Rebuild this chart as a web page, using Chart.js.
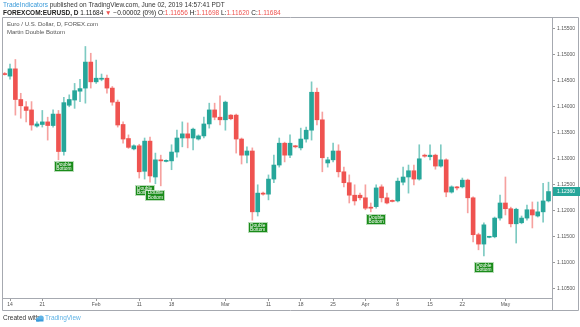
<!DOCTYPE html>
<html>
<head>
<meta charset="utf-8">
<script src="https://cdn.jsdelivr.net/npm/chart.js@4.4.1/dist/chart.umd.min.js"></script>
<style>
  html, body { margin: 0; padding: 0; background: #fff; }
</style>
</head>
<body>
<canvas id="chart" width="580" height="327"></canvas>
<script>
// daily EURUSD candles, Sun Jan 13 .. Fri May 10 2019 (Sunday bars included)
const opens = [1.1462,1.1458,1.1472,1.1413,1.1399,1.1393,1.1362,1.1365,1.1370,1.1363,
  1.1385,1.1313,1.1402,1.1412,1.1429,1.1435,1.1485,1.1447,1.1452,1.1454,
  1.1435,1.1408,1.1365,1.1338,1.1318,1.1324,1.1275,1.1333,1.1264,1.1297,
  1.1294,1.1295,1.1312,1.1339,1.1347,1.1339,1.1337,1.1343,1.1366,1.1393,
  1.1379,1.1374,1.1383,1.1383,1.1337,1.1306,1.1314,1.1197,1.1233,1.1231,
  1.1260,1.1287,1.1329,1.1306,1.1324,1.1320,1.1337,1.1354,1.1427,1.1374,
  1.1291,1.1297,1.1314,1.1274,1.1253,1.1229,1.1229,1.1224,1.1206,1.1207,
  1.1245,1.1224,1.1219,1.1218,1.1254,1.1264,1.1276,1.1260,1.1306,1.1303,
  1.1306,1.1285,1.1297,1.1235,1.1245,1.1245,1.1258,1.1224,1.1153,1.1135,
  1.1148,1.1149,1.1185,1.1214,1.1203,1.1174,1.1176,1.1185,1.1201,1.1189,
  1.1197,1.1218];
const highs = [1.1465,1.1481,1.1490,1.1425,1.1409,1.1409,1.1370,1.1392,1.1379,1.1393,
  1.1392,1.1417,1.1422,1.1444,1.1452,1.1515,1.1502,1.1489,1.1462,1.1460,
  1.1438,1.1412,1.1370,1.1345,1.1326,1.1327,1.1339,1.1341,1.1310,1.1306,
  1.1297,1.1326,1.1354,1.1370,1.1368,1.1358,1.1345,1.1379,1.1406,1.1406,
  1.1420,1.1410,1.1384,1.1385,1.1339,1.1322,1.1320,1.1249,1.1235,1.1268,
  1.1306,1.1339,1.1331,1.1345,1.1325,1.1358,1.1360,1.1447,1.1435,1.1389,
  1.1302,1.1329,1.1326,1.1283,1.1268,1.1249,1.1233,1.1249,1.1214,1.1249,
  1.1249,1.1233,1.1220,1.1262,1.1283,1.1287,1.1287,1.1326,1.1308,1.1326,
  1.1308,1.1326,1.1299,1.1247,1.1246,1.1262,1.1260,1.1226,1.1156,1.1176,
  1.1150,1.1187,1.1229,1.1264,1.1206,1.1204,1.1189,1.1210,1.1216,1.1216,
  1.1252,1.1254];
const lows = [1.1460,1.1452,1.1383,1.1377,1.1370,1.1354,1.1360,1.1360,1.1335,1.1360,
  1.1297,1.1306,1.1399,1.1396,1.1409,1.1406,1.1435,1.1444,1.1449,1.1425,
  1.1402,1.1360,1.1329,1.1319,1.1316,1.1262,1.1260,1.1254,1.1251,1.1247,
  1.1293,1.1278,1.1302,1.1322,1.1320,1.1316,1.1335,1.1339,1.1358,1.1374,
  1.1364,1.1354,1.1374,1.1310,1.1289,1.1291,1.1181,1.1189,1.1229,1.1220,
  1.1253,1.1283,1.1293,1.1301,1.1320,1.1316,1.1331,1.1335,1.1364,1.1274,
  1.1283,1.1293,1.1264,1.1245,1.1214,1.1210,1.1220,1.1201,1.1197,1.1204,
  1.1216,1.1212,1.1216,1.1216,1.1249,1.1233,1.1249,1.1258,1.1302,1.1297,
  1.1279,1.1283,1.1226,1.1233,1.1239,1.1243,1.1195,1.1139,1.1124,1.1112,
  1.1147,1.1147,1.1181,1.1191,1.1168,1.1137,1.1174,1.1181,1.1166,1.1187,
  1.1177,1.1216];
const closes = [1.1461,1.1472,1.1413,1.1401,1.1392,1.1364,1.1366,1.1370,1.1363,1.1385,
  1.1313,1.1407,1.1413,1.1430,1.1434,1.1485,1.1447,1.1454,1.1454,1.1435,
  1.1408,1.1364,1.1337,1.1321,1.1324,1.1274,1.1333,1.1266,1.1297,1.1295,
  1.1296,1.1312,1.1339,1.1347,1.1339,1.1356,1.1343,1.1366,1.1393,1.1379,
  1.1374,1.1408,1.1376,1.1337,1.1306,1.1314,1.1197,1.1233,1.1231,1.1260,
  1.1287,1.1329,1.1306,1.1329,1.1322,1.1337,1.1354,1.1427,1.1374,1.1301,
  1.1297,1.1314,1.1274,1.1253,1.1229,1.1218,1.1224,1.1204,1.1204,1.1243,
  1.1224,1.1214,1.1217,1.1256,1.1264,1.1276,1.1260,1.1299,1.1304,1.1306,
  1.1285,1.1297,1.1235,1.1245,1.1243,1.1258,1.1224,1.1153,1.1135,1.1172,
  1.1150,1.1185,1.1214,1.1203,1.1174,1.1202,1.1185,1.1201,1.1191,1.1197,
  1.1218,1.1236];

// time axis labels (bar index -> text)
const tickIdx = [1, 7, 17, 25, 31, 41, 49, 55, 61, 67, 73, 79, 85, 93];
const tickText = ['14', '21', 'Feb', '11', '18', 'Mar', '11', '18', '25', 'Apr', '8', '15', '22', 'May'];
const yTicks = [1.105, 1.110, 1.115, 1.120, 1.125, 1.130, 1.135, 1.140, 1.145, 1.150, 1.155];

// bars flagged by the "Martin Double Bottom" script
const patternIdx = [11, 26, 28, 47, 69, 89];

const UP = '#26a69a';
const DOWN = '#ef5350';
const FONT = "'Liberation Sans', Arial, sans-serif";

const isUp = closes.map((c, i) => c >= opens[i]);

const bodies = opens.map((o, i) => ({ x: i, y: [o, closes[i]] }));
const wicks = lows.map((l, i) => ({ x: i, y: [l, highs[i]] }));

const overlay = {
  id: 'overlay',
  afterDraw(chart) {
    const ctx = chart.ctx;
    const xs = chart.scales.x, ys = chart.scales.y;
    const area = chart.chartArea;
    ctx.save();

    // frame
    ctx.strokeStyle = '#a6a9b0';
    ctx.lineWidth = 1;
    ctx.beginPath();
    ctx.moveTo(2.5, 17.5); ctx.lineTo(578.5, 17.5);
    ctx.moveTo(2.5, 17.5); ctx.lineTo(2.5, 310.5);
    ctx.moveTo(2.5, 310.5); ctx.lineTo(578.5, 310.5);
    ctx.moveTo(578.5, 17.5); ctx.lineTo(578.5, 310.5);
    ctx.moveTo(area.right + 0.5, area.bottom); ctx.lineTo(area.right + 0.5, 310.5);
    ctx.stroke();

    // header
    ctx.textBaseline = 'middle';
    ctx.textAlign = 'left';
    ctx.font = '6.5px ' + FONT;
    ctx.fillStyle = '#3a9ad9';
    ctx.fillText('TradeIndicators', 3, 5.5);
    let w = ctx.measureText('TradeIndicators').width;
    ctx.fillStyle = '#333';
    ctx.fillText(' published on TradingView.com, June 02, 2019 14:57:41 PDT', 3 + w, 5.5);

    const parts = [
      ['FOREXCOM:EURUSD, D ', '#222', true],
      ['1.11684 ', '#222', false],
      ['\u25BC ', DOWN, false],
      ['\u22120.00002 (0%) ', '#222', false],
      ['O:', '#222', false], ['1.11656 ', DOWN, false],
      ['H:', '#222', false], ['1.11698 ', DOWN, false],
      ['L:', '#222', false], ['1.11620 ', DOWN, false],
      ['C:', '#222', false], ['1.11684', DOWN, false]
    ];
    let x = 3;
    parts.forEach(p => {
      ctx.font = (p[2] ? 'bold ' : '') + '6.5px ' + FONT;
      ctx.fillStyle = p[1];
      ctx.fillText(p[0], x, 13.3);
      x += ctx.measureText(p[0]).width;
    });

    // pane legend
    ctx.font = '6px ' + FONT;
    ctx.fillStyle = '#555';
    ctx.fillText('Euro / U.S. Dollar, D, FOREX.com', 7, 24.7);
    ctx.fillText('Martin Double Bottom', 7, 32.7);

    // footer
    ctx.font = '6.5px ' + FONT;
    ctx.fillStyle = '#333';
    ctx.fillText('Created with', 3, 318.5);
    ctx.fillStyle = '#5fb3e6';
    ctx.beginPath();
    ctx.arc(38, 319.5, 2.2, 0, Math.PI * 2);
    ctx.arc(41, 318.2, 2.8, 0, Math.PI * 2);
    ctx.fill();
    ctx.fillStyle = '#3a9ad9';
    ctx.fillRect(36, 319.5, 7.5, 2);
    ctx.fillStyle = '#5fb3e6';
    ctx.fillText('TradingView', 45, 318.5);

    // pattern labels
    ctx.textAlign = 'center';
    patternIdx.forEach(i => {
      const cx = xs.getPixelForValue(i);
      const top = ys.getPixelForValue(lows[i]) + 6;
      ctx.fillStyle = '#1a8c1a';
      ctx.fillRect(Math.round(cx - 10), Math.round(top), 20, 11);
      ctx.strokeStyle = 'rgba(255,255,255,0.7)';
      ctx.strokeRect(Math.round(cx - 10) + 0.5, Math.round(top) + 0.5, 19, 10);
      ctx.fillStyle = '#fff';
      ctx.font = '4.8px ' + FONT;
      ctx.fillText('Double', cx, top + 3.4);
      ctx.fillText('Bottom', cx, top + 7.8);
    });

    // last price badge
    const last = closes[closes.length - 1];
    const by = ys.getPixelForValue(last);
    ctx.fillStyle = UP;
    ctx.fillRect(area.right + 1, Math.round(by - 4.5), 27, 9);
    ctx.fillStyle = '#fff';
    ctx.textAlign = 'left';
    ctx.font = '5px ' + FONT;
    ctx.fillText(last.toFixed(5), area.right + 5, by + 0.3);

    ctx.restore();
  }
};

new Chart(document.getElementById('chart'), {
  type: 'bar',
  data: {
    datasets: [
      {
        data: bodies,
        backgroundColor: isUp.map(u => u ? UP : DOWN),
        barThickness: 4,
        minBarLength: 1,
        grouped: false
      },
      {
        data: wicks,
        backgroundColor: isUp.map(u => u ? 'rgba(38,166,154,0.6)' : 'rgba(239,83,80,0.55)'),
        barThickness: 1,
        grouped: false
      }
    ]
  },
  options: {
    responsive: false,
    animation: false,
    devicePixelRatio: 1,
    layout: { padding: { left: 3, top: 17, right: 0, bottom: 16 } },
    plugins: { legend: { display: false }, tooltip: { enabled: false } },
    scales: {
      x: {
        type: 'linear',
        offset: false,
        min: -0.3,
        max: 101.65,
        afterBuildTicks: s => { s.ticks = tickIdx.map(v => ({ value: v })); },
        afterFit: s => { s.height = 13; },
        grid: { offset: false, drawOnChartArea: false, drawTicks: true, tickLength: 3, tickColor: '#999' },
        border: { display: true, color: '#a6a9b0' },
        ticks: {
          autoSkip: false, maxRotation: 0, minRotation: 0, padding: 1,
          color: '#555', font: { size: 5, family: FONT },
          callback: (v, i) => tickText[i]
        }
      },
      y: {
        position: 'right',
        min: 1.10313,
        max: 1.15717,
        afterBuildTicks: s => { s.ticks = yTicks.map(v => ({ value: v })); },
        afterFit: s => { s.width = 28; },
        grid: { drawOnChartArea: false, drawTicks: true, tickLength: 3, tickColor: '#999' },
        border: { display: true, color: '#a6a9b0' },
        ticks: {
          padding: 2, color: '#555', font: { size: 5, family: FONT },
          callback: v => v.toFixed(5)
        }
      }
    }
  },
  plugins: [overlay]
});
</script>
</body>
</html>
